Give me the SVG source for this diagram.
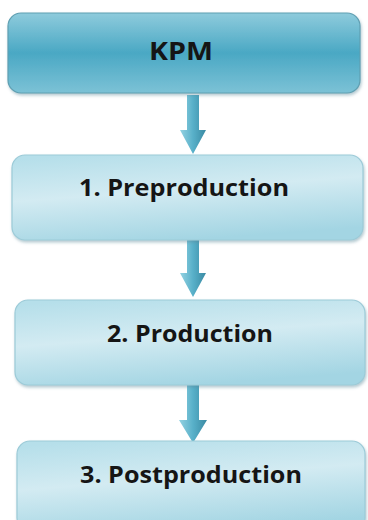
<svg xmlns="http://www.w3.org/2000/svg" width="368" height="520" viewBox="0 0 368 520">
<defs>
<linearGradient id="gTop" x1="0" y1="0" x2="0" y2="1">
<stop offset="0" stop-color="#8ecbdc"/>
<stop offset="0.5" stop-color="#4aa8c4"/>
<stop offset="1" stop-color="#7cc2d6"/>
</linearGradient>
<linearGradient id="gBox" x1="0.2" y1="0" x2="0.5" y2="1">
<stop offset="0" stop-color="#b6dfea"/>
<stop offset="0.45" stop-color="#d3ebf2"/>
<stop offset="1" stop-color="#a3d5e3"/>
</linearGradient>
<linearGradient id="gArrow" x1="0" y1="0" x2="1" y2="0">
<stop offset="0" stop-color="#94d2e2"/>
<stop offset="0.5" stop-color="#58b0c9"/>
<stop offset="1" stop-color="#3a8aa3"/>
</linearGradient>
<filter id="sh" x="-5%" y="-10%" width="110%" height="130%">
<feDropShadow dx="1" dy="2" stdDeviation="1.5" flood-color="#5a8a99" flood-opacity="0.45"/>
</filter>
</defs>
<style>
.top{fill:url(#gTop);stroke:#5f9fb2;stroke-width:1.2}
.box{fill:url(#gBox);stroke:#9ccbd8;stroke-width:1.2}
.arr{fill:url(#gArrow)}
.t{font-family:"Open Sans","Liberation Sans",sans-serif;font-weight:bold;text-anchor:middle;fill:#151515}
</style>
<rect width="368" height="520" fill="#ffffff"/>
<g id="connectors">
<path class="arr" d="M187 95 H199 V130 H206 L193 154 L180 130 H187 Z"/>
<path class="arr" d="M187 239 H199 V273 H206 L193 297 L180 273 H187 Z"/>
<path class="arr" d="M187 385 H199 V420 H207 L193 443 L179 420 H187 Z"/>
</g>
<g id="kpm">
<rect class="top" x="8" y="13" width="352" height="80" rx="13" filter="url(#sh)"/>
<text class="t" x="181" y="60" font-size="25" fill="#1b2733" textLength="64" lengthAdjust="spacingAndGlyphs">KPM</text>
</g>
<g id="preproduction">
<rect class="box" x="12" y="155" width="351" height="85" rx="13" filter="url(#sh)"/>
<text class="t" x="184" y="196" font-size="23" textLength="210" lengthAdjust="spacingAndGlyphs">1. Preproduction</text>
</g>
<g id="production">
<rect class="box" x="15" y="300" width="350" height="85" rx="13" filter="url(#sh)"/>
<text class="t" x="190" y="342" font-size="23" textLength="166" lengthAdjust="spacingAndGlyphs">2. Production</text>
</g>
<g id="postproduction">
<rect class="box" x="17" y="441" width="348" height="90" rx="13" filter="url(#sh)"/>
<text class="t" x="191" y="483" font-size="23" textLength="222" lengthAdjust="spacingAndGlyphs">3. Postproduction</text>
</g>
</svg>
